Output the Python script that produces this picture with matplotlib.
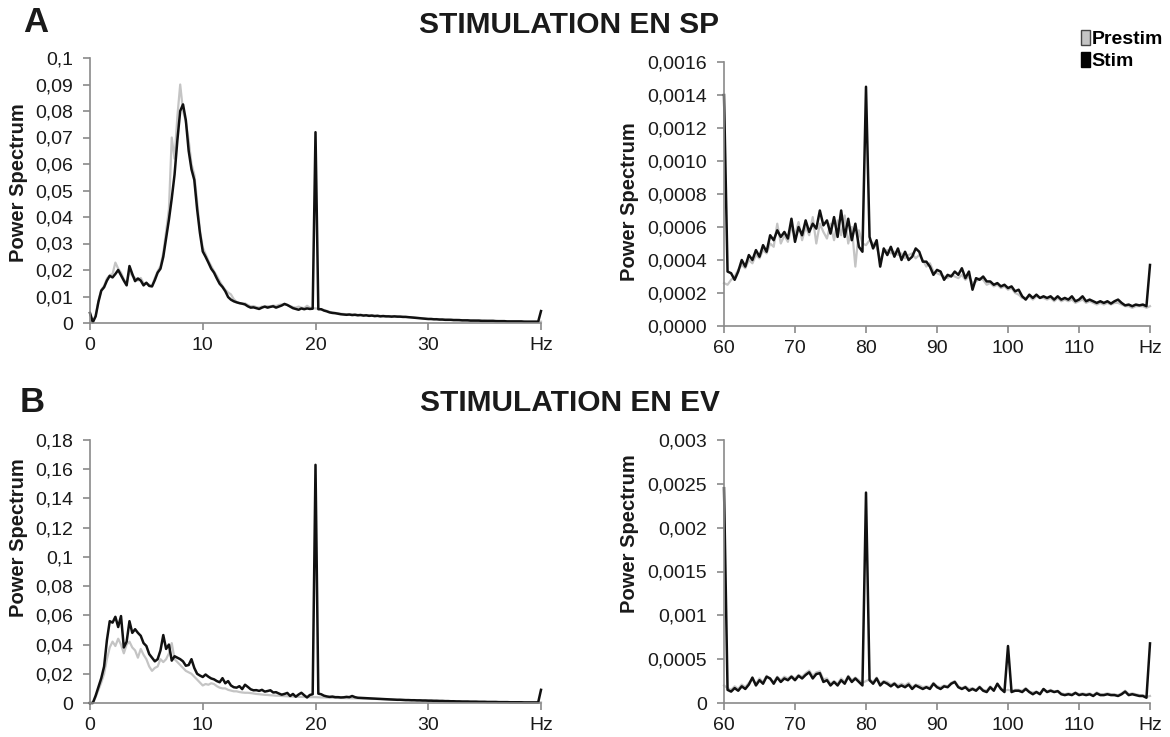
import matplotlib
matplotlib.use('Agg')
import matplotlib.pyplot as plt
import numpy as np
from matplotlib.patches import Patch

plt.rcParams['font.family'] = ['Liberation Sans', 'DejaVu Sans']

# frequency grids (Hz)
freq_low = np.arange(0, 40.01, 0.25)
freq_high = np.arange(60, 120.01, 0.5)

# A : stimulation en SP, 0-40 Hz
sp_low_prestim = [
    0.0035, 0.0004, 0.0028, 0.0085, 0.0125, 0.0140, 0.0168, 0.0180,
    0.0185, 0.0228, 0.0205, 0.0190, 0.0165, 0.0150, 0.0195, 0.0178,
    0.0170, 0.0160, 0.0170, 0.0150, 0.0148, 0.0145, 0.0140, 0.0170,
    0.0195, 0.0215, 0.0265, 0.0345, 0.0430, 0.0700, 0.0620, 0.0780,
    0.0900, 0.0800, 0.0760, 0.0690, 0.0600, 0.0560, 0.0460, 0.0350,
    0.0285, 0.0260, 0.0235, 0.0215, 0.0195, 0.0178, 0.0158, 0.0140,
    0.0125, 0.0115, 0.0108, 0.0090, 0.0080, 0.0075, 0.0072, 0.0074,
    0.0068, 0.0063, 0.0064, 0.0060, 0.0058, 0.0062, 0.0060, 0.0064,
    0.0062, 0.0066, 0.0064, 0.0068, 0.0070, 0.0070, 0.0068, 0.0064,
    0.0060, 0.0058, 0.0062, 0.0058, 0.0056, 0.0065, 0.0058, 0.0056,
    0.0055, 0.0054, 0.0052, 0.0049, 0.0046, 0.0042, 0.0040, 0.0038,
    0.0037, 0.0035, 0.0034, 0.0033, 0.0033, 0.0032, 0.0032, 0.0031,
    0.0031, 0.0030, 0.0030, 0.0029, 0.0029, 0.0028, 0.0028, 0.0027,
    0.0027, 0.0026, 0.0026, 0.0026, 0.0025, 0.0025, 0.0024, 0.0024,
    0.0023, 0.0022, 0.0022, 0.0021, 0.0020, 0.0019, 0.0018, 0.0017,
    0.0016, 0.0016, 0.0015, 0.0015, 0.0014, 0.0014, 0.0013, 0.0013,
    0.0012, 0.0012, 0.0012, 0.0011, 0.0011, 0.0011, 0.0010, 0.0010,
    0.0010, 0.0009, 0.0009, 0.0009, 0.0009, 0.0008, 0.0008, 0.0008,
    0.0008, 0.0007, 0.0007, 0.0007, 0.0007, 0.0006, 0.0006, 0.0006,
    0.0006, 0.0006, 0.0006, 0.0005, 0.0005, 0.0005, 0.0005, 0.0005,
    0.0005]
sp_low_stim = [
    0.0038, 0.0003, 0.0025, 0.0080, 0.0122, 0.0135, 0.0160, 0.0178,
    0.0172, 0.0185, 0.0200, 0.0180, 0.0160, 0.0142, 0.0215, 0.0185,
    0.0158, 0.0168, 0.0160, 0.0142, 0.0152, 0.0140, 0.0138, 0.0162,
    0.0190, 0.0205, 0.0250, 0.0320, 0.0390, 0.0470, 0.0560, 0.0690,
    0.0800, 0.0825, 0.0765, 0.0650, 0.0580, 0.0540, 0.0430, 0.0340,
    0.0270, 0.0250, 0.0228, 0.0205, 0.0190, 0.0168, 0.0148, 0.0136,
    0.0120, 0.0098, 0.0088, 0.0082, 0.0078, 0.0075, 0.0073, 0.0070,
    0.0063, 0.0058, 0.0059, 0.0056, 0.0053, 0.0058, 0.0062, 0.0058,
    0.0061, 0.0063, 0.0058, 0.0062, 0.0066, 0.0072, 0.0068, 0.0062,
    0.0056, 0.0053, 0.0050, 0.0055, 0.0052, 0.0055, 0.0053, 0.0054,
    0.0720, 0.0052, 0.0052, 0.0047, 0.0044, 0.0040, 0.0038, 0.0037,
    0.0035, 0.0033, 0.0032, 0.0031, 0.0032, 0.0030, 0.0031, 0.0029,
    0.0030, 0.0028, 0.0029, 0.0027, 0.0028, 0.0026, 0.0027, 0.0025,
    0.0026, 0.0025, 0.0025, 0.0024, 0.0025, 0.0024, 0.0024, 0.0023,
    0.0023, 0.0022, 0.0021, 0.0020, 0.0019, 0.0018, 0.0017, 0.0016,
    0.0015, 0.0015, 0.0014, 0.0014, 0.0013, 0.0013, 0.0012, 0.0012,
    0.0012, 0.0011, 0.0011, 0.0011, 0.0010, 0.0010, 0.0010, 0.0009,
    0.0009, 0.0009, 0.0009, 0.0008, 0.0008, 0.0008, 0.0008, 0.0008,
    0.0007, 0.0007, 0.0007, 0.0007, 0.0006, 0.0006, 0.0006, 0.0006,
    0.0006, 0.0006, 0.0005, 0.0005, 0.0005, 0.0005, 0.0005, 0.0005,
    0.0045]

# A : stimulation en SP, 60-120 Hz
sp_high_prestim = [
    0.00026, 0.00025, 0.00028, 0.00030, 0.00034, 0.00037, 0.00035, 0.00040, 0.00038, 0.00043,
    0.00041, 0.00046, 0.00044, 0.00050, 0.00048, 0.00062, 0.00050, 0.00055, 0.00051, 0.00060,
    0.00055, 0.00063, 0.00052, 0.00060, 0.00055, 0.00066, 0.00050, 0.00062, 0.00057, 0.00053,
    0.00062, 0.00052, 0.00064, 0.00055, 0.00067, 0.00050, 0.00060, 0.00036, 0.00058, 0.00050,
    0.00049, 0.00052, 0.00050, 0.00048, 0.00040, 0.00045, 0.00046, 0.00044, 0.00045, 0.00043,
    0.00044, 0.00041, 0.00043, 0.00044, 0.00041, 0.00043, 0.00040, 0.00036, 0.00038, 0.00033,
    0.00032, 0.00031, 0.00030, 0.00029, 0.00031, 0.00030, 0.00029, 0.00031, 0.00028, 0.00030,
    0.00026, 0.00027, 0.00029, 0.00028, 0.00025, 0.00026, 0.00024, 0.00025, 0.00023, 0.00024,
    0.00022, 0.00023, 0.00020, 0.00019, 0.00017, 0.00017, 0.00018, 0.00016, 0.00018, 0.00017,
    0.00017, 0.00016, 0.00017, 0.00015, 0.00017, 0.00015, 0.00016, 0.00015, 0.00016, 0.00014,
    0.00015, 0.00016, 0.00014, 0.00015, 0.00014, 0.00013, 0.00014, 0.00013, 0.00014, 0.00013,
    0.00014, 0.00014, 0.00013, 0.00012, 0.00012, 0.00011, 0.00012, 0.00012, 0.00012, 0.00011,
    0.00012]
sp_high_stim = [
    0.00140, 0.00033, 0.00032, 0.00028, 0.00033, 0.00040, 0.00036, 0.00043, 0.00040, 0.00046,
    0.00042, 0.00049, 0.00045, 0.00055, 0.00052, 0.00058, 0.00054, 0.00057, 0.00053, 0.00065,
    0.00051, 0.00060, 0.00055, 0.00064, 0.00057, 0.00062, 0.00059, 0.00070, 0.00061, 0.00064,
    0.00056, 0.00066, 0.00054, 0.00070, 0.00054, 0.00065, 0.00052, 0.00062, 0.00048, 0.00045,
    0.00145, 0.00054, 0.00047, 0.00052, 0.00036, 0.00047, 0.00043, 0.00048, 0.00042, 0.00047,
    0.00040, 0.00045, 0.00040, 0.00042, 0.00047, 0.00045, 0.00039, 0.00039, 0.00036, 0.00031,
    0.00034, 0.00033, 0.00028, 0.00031, 0.00030, 0.00033, 0.00031, 0.00035, 0.00029, 0.00033,
    0.00022, 0.00029, 0.00028, 0.00030, 0.00027, 0.00027, 0.00025, 0.00026, 0.00024, 0.00025,
    0.00023, 0.00024, 0.00021, 0.00022, 0.00018, 0.00016, 0.00019, 0.00017, 0.00019, 0.00017,
    0.00018, 0.00017, 0.00018, 0.00016, 0.00018, 0.00016, 0.00017, 0.00016, 0.00018, 0.00015,
    0.00016, 0.00018, 0.00015, 0.00016, 0.00015, 0.00014, 0.00015, 0.00014, 0.00015, 0.000136,
    0.00015, 0.00016, 0.00014, 0.000125, 0.00013, 0.00012, 0.00013, 0.000125, 0.00013, 0.00012,
    0.00037]

# B : stimulation en EV, 0-40 Hz
ev_low_prestim = [
    0.0000, 0.0000, 0.0040, 0.0090, 0.0140, 0.0200, 0.0300, 0.0380,
    0.0420, 0.0390, 0.0440, 0.0400, 0.0340, 0.0400, 0.0420, 0.0380,
    0.0360, 0.0310, 0.0370, 0.0330, 0.0300, 0.0250, 0.0220, 0.0240,
    0.0250, 0.0300, 0.0280, 0.0300, 0.0340, 0.0410, 0.0300, 0.0280,
    0.0260, 0.0240, 0.0220, 0.0210, 0.0200, 0.0180, 0.0160, 0.0140,
    0.0120, 0.0130, 0.0125, 0.0135, 0.0130, 0.0115, 0.0105, 0.0100,
    0.0100, 0.0090, 0.0085, 0.0080, 0.0080, 0.0075, 0.0072, 0.0070,
    0.0070, 0.0068, 0.0065, 0.0062, 0.0060, 0.0058, 0.0056, 0.0055,
    0.0053, 0.0052, 0.0050, 0.0050, 0.0048, 0.0047, 0.0046, 0.0045,
    0.0044, 0.0043, 0.0042, 0.0042, 0.0041, 0.0040, 0.0040, 0.0040,
    0.0040, 0.0039, 0.0038, 0.0038, 0.0037, 0.0036, 0.0036, 0.0035,
    0.0035, 0.0034, 0.0034, 0.0033, 0.0033, 0.0032, 0.0032, 0.0031,
    0.0031, 0.0030, 0.0030, 0.0029, 0.0028, 0.0028, 0.0027, 0.0027,
    0.0026, 0.0025, 0.0024, 0.0024, 0.0023, 0.0022, 0.0022, 0.0021,
    0.0020, 0.0020, 0.0019, 0.0019, 0.0018, 0.0018, 0.0017, 0.0017,
    0.0016, 0.0016, 0.0015, 0.0015, 0.0014, 0.0014, 0.0013, 0.0013,
    0.0012, 0.0012, 0.0011, 0.0011, 0.0010, 0.0010, 0.0010, 0.0009,
    0.0009, 0.0009, 0.0008, 0.0008, 0.0008, 0.0007, 0.0007, 0.0007,
    0.0007, 0.0006, 0.0006, 0.0006, 0.0006, 0.0005, 0.0005, 0.0005,
    0.0005, 0.0005, 0.0004, 0.0004, 0.0004, 0.0004, 0.0004, 0.0004,
    0.0004]
ev_low_stim = [
    0.0000, 0.0000, 0.0050, 0.0110, 0.0170, 0.0250, 0.0430, 0.0560,
    0.0550, 0.0590, 0.0520, 0.0595, 0.0380, 0.0420, 0.0560, 0.0480,
    0.0505, 0.0480, 0.0460, 0.0410, 0.0390, 0.0335, 0.0310, 0.0285,
    0.0300, 0.0360, 0.0465, 0.0370, 0.0400, 0.0290, 0.0320, 0.0310,
    0.0300, 0.0285, 0.0255, 0.0260, 0.0300, 0.0240, 0.0200, 0.0188,
    0.0178, 0.0195, 0.0180, 0.0168, 0.0162, 0.0150, 0.0142, 0.0170,
    0.0135, 0.0150, 0.0120, 0.0108, 0.0105, 0.0115, 0.0095, 0.0125,
    0.0110, 0.0094, 0.0087, 0.0088, 0.0083, 0.0090, 0.0078, 0.0082,
    0.0087, 0.0072, 0.0074, 0.0065, 0.0057, 0.0062, 0.0069, 0.0048,
    0.0062, 0.0043, 0.0058, 0.0070, 0.0053, 0.0038, 0.0055, 0.0060,
    0.1630, 0.0064, 0.0060, 0.0050, 0.0045, 0.0042, 0.0044, 0.0040,
    0.0040, 0.0038, 0.0039, 0.0042, 0.0040, 0.0048, 0.0040, 0.0036,
    0.0035, 0.0034, 0.0033, 0.0032, 0.0031, 0.0030, 0.0029, 0.0028,
    0.0027, 0.0026, 0.0025, 0.0024, 0.0023, 0.0022, 0.0022, 0.0021,
    0.0020, 0.0020, 0.0019, 0.0019, 0.0018, 0.0018, 0.0017, 0.0017,
    0.0016, 0.0016, 0.0015, 0.0015, 0.0014, 0.0014, 0.0013, 0.0013,
    0.0012, 0.0012, 0.0011, 0.0011, 0.0010, 0.0010, 0.0010, 0.0009,
    0.0009, 0.0009, 0.0008, 0.0008, 0.0008, 0.0007, 0.0007, 0.0007,
    0.0007, 0.0006, 0.0006, 0.0006, 0.0006, 0.0005, 0.0005, 0.0005,
    0.0005, 0.0005, 0.0004, 0.0004, 0.0004, 0.0004, 0.0004, 0.0004,
    0.0090]

# B : stimulation en EV, 60-120 Hz
ev_high_prestim = [
    0.00020, 0.00017, 0.00015, 0.00019, 0.00016, 0.00021, 0.00018, 0.00023, 0.00027, 0.00022,
    0.00028, 0.00024, 0.00031, 0.00027, 0.00024, 0.00030, 0.00026, 0.00030, 0.00028, 0.00031,
    0.00028, 0.00032, 0.00030, 0.00034, 0.00037, 0.00031, 0.00035, 0.00036, 0.00027, 0.00028,
    0.00022, 0.00025, 0.00022, 0.00028, 0.00024, 0.00031, 0.00026, 0.00029, 0.00026, 0.00023,
    0.00025, 0.00027, 0.00024, 0.00029, 0.00022, 0.00025, 0.00024, 0.00021, 0.00023, 0.00020,
    0.00022, 0.00020, 0.00023, 0.00018, 0.00021, 0.00020, 0.00018, 0.00019, 0.00018, 0.00023,
    0.00019, 0.00018, 0.00020, 0.00019, 0.00023, 0.00025, 0.00019, 0.00017, 0.00019, 0.00016,
    0.00017, 0.00015, 0.00019, 0.00015, 0.00014, 0.00019, 0.00015, 0.00021, 0.00017, 0.00014,
    0.00015, 0.00014, 0.00015, 0.00015, 0.00014, 0.00017, 0.00013, 0.00012, 0.00013, 0.00011,
    0.00016, 0.00013, 0.00015, 0.00013, 0.00014, 0.00011, 0.00010, 0.00011, 0.00010, 0.00012,
    0.00010, 0.00011, 0.00010, 0.00011, 0.00009, 0.00012, 0.00010, 0.00010, 0.00011, 0.00010,
    0.00010, 0.00009, 0.00011, 0.00014, 0.00010, 0.00011, 0.00010, 0.00009, 0.00009, 0.00007,
    0.00008]
ev_high_stim = [
    0.00245, 0.00015, 0.00013, 0.00017, 0.00014, 0.00019, 0.00016, 0.00021, 0.00029, 0.00020,
    0.00026, 0.00022, 0.00030, 0.00028, 0.00022, 0.00029, 0.00024, 0.00028, 0.00026, 0.00030,
    0.00026, 0.00031, 0.00028, 0.00032, 0.00035, 0.00028, 0.00033, 0.00034, 0.00024, 0.00026,
    0.00020, 0.00024, 0.00020, 0.00026, 0.00022, 0.00030, 0.00024, 0.00028, 0.00024, 0.00020,
    0.00240, 0.00026, 0.00022, 0.00028, 0.00020, 0.00024, 0.00022, 0.00019, 0.00022, 0.00018,
    0.00020, 0.00018, 0.00021, 0.00016, 0.00020, 0.00018, 0.00016, 0.00018, 0.00016, 0.00022,
    0.00018, 0.00016, 0.00019, 0.00018, 0.00022, 0.00024, 0.00018, 0.00016, 0.00018, 0.00014,
    0.00016, 0.00014, 0.00018, 0.00014, 0.000125, 0.00018, 0.00014, 0.00022, 0.00016, 0.000125,
    0.00065, 0.000125, 0.00014, 0.00014, 0.000125, 0.00016, 0.000125, 0.00010, 0.000125, 0.00010,
    0.00016, 0.000125, 0.00014, 0.000125, 0.000135, 0.00010, 0.00009, 0.00010, 0.00009, 0.000115,
    0.00009, 0.00010, 0.00009, 0.00010, 0.00008, 0.00011, 0.00009, 0.00009, 0.00010, 0.00009,
    0.00009, 0.00008, 0.00010, 0.00013, 0.00009, 0.00010, 0.00009, 0.00008, 0.00008, 0.00006,
    0.00068]

# axis ticks and labels
low_xticks = [0, 10, 20, 30, 40]
low_xlabels = ['0', '10', '20', '30', 'Hz']
high_xticks = [60, 70, 80, 90, 100, 110, 120]
high_xlabels = ['60', '70', '80', '90', '100', '110', 'Hz']

sp_low_yticks = [0, 0.01, 0.02, 0.03, 0.04, 0.05, 0.06, 0.07, 0.08, 0.09, 0.1]
sp_low_ylabels = ['0', '0,01', '0,02', '0,03', '0,04', '0,05', '0,06', '0,07', '0,08', '0,09', '0,1']
sp_high_yticks = [0, 0.0002, 0.0004, 0.0006, 0.0008, 0.0010, 0.0012, 0.0014, 0.0016]
sp_high_ylabels = ['0,0000', '0,0002', '0,0004', '0,0006', '0,0008', '0,0010', '0,0012', '0,0014', '0,0016']
ev_low_yticks = [0, 0.02, 0.04, 0.06, 0.08, 0.1, 0.12, 0.14, 0.16, 0.18]
ev_low_ylabels = ['0', '0,02', '0,04', '0,06', '0,08', '0,1', '0,12', '0,14', '0,16', '0,18']
ev_high_yticks = [0, 0.0005, 0.001, 0.0015, 0.002, 0.0025, 0.003]
ev_high_ylabels = ['0', '0,0005', '0,001', '0,0015', '0,002', '0,0025', '0,003']

AXIS_GREY = '#8a8a8a'
TXT = '#1a1a1a'
PRE_COL = '#c4c4c4'
STIM_COL = '#111111'


def draw_panel(ax, x, pre, stim, xt, xl, yt, yl, label_xy):
  ax.plot(x, pre, color=PRE_COL, lw=1.6, clip_on=False)
  ax.plot(x, stim, color=STIM_COL, lw=1.8, clip_on=False)
  ax.set_xlim(xt[0], xt[-1])
  ax.set_ylim(yt[0], yt[-1])
  ax.set_xticks(xt)
  ax.set_xticklabels(xl)
  ax.set_yticks(yt)
  ax.set_yticklabels(yl)
  for s in ['top', 'right']:
    ax.spines[s].set_visible(False)
  for s in ['left', 'bottom']:
    ax.spines[s].set_color(AXIS_GREY)
    ax.spines[s].set_linewidth(1.2)
  ax.tick_params(axis='both', direction='out', length=5, width=1.2,
                 color=AXIS_GREY, labelcolor=TXT, labelsize=14)
  ax.tick_params(axis='y', pad=7)
  ax.tick_params(axis='x', pad=5)
  ax.set_ylabel('Power Spectrum', fontsize=14.5, fontweight='bold', color=TXT)
  ax.yaxis.set_label_coords(*label_xy)


fig = plt.figure(figsize=(11.7, 7.37), dpi=100)
W, H = 1170.0, 737.0

def add_axes(x0, x1, ytop, ybot):
  return fig.add_axes([x0 / W, 1 - ybot / H, (x1 - x0) / W, (ybot - ytop) / H])

ax_a1 = add_axes(90, 541, 58, 323)
ax_a2 = add_axes(724, 1150, 62, 326)
ax_b1 = add_axes(90, 541, 440, 703)
ax_b2 = add_axes(724, 1150, 440, 703)

draw_panel(ax_a1, freq_low, sp_low_prestim, sp_low_stim, low_xticks, low_xlabels,
           sp_low_yticks, sp_low_ylabels, (-0.138, 0.53))
draw_panel(ax_a2, freq_high, sp_high_prestim, sp_high_stim, high_xticks, high_xlabels,
           sp_high_yticks, sp_high_ylabels, (-0.2, 0.47))
draw_panel(ax_b1, freq_low, ev_low_prestim, ev_low_stim, low_xticks, low_xlabels,
           ev_low_yticks, ev_low_ylabels, (-0.138, 0.63))
draw_panel(ax_b2, freq_high, ev_high_prestim, ev_high_stim, high_xticks, high_xlabels,
           ev_high_yticks, ev_high_ylabels, (-0.2, 0.645))

fig.text(569 / W, 1 - 25 / H, 'STIMULATION EN SP', ha='center', va='center',
         fontsize=21.5, fontweight='bold', color=TXT)
fig.text(570 / W, 1 - 403 / H, 'STIMULATION EN EV', ha='center', va='center',
         fontsize=21.5, fontweight='bold', color=TXT)
fig.text(36 / W, 1 - 22 / H, 'A', ha='center', va='center', fontsize=25,
         fontweight='bold', color=TXT)
fig.text(32 / W, 1 - 403 / H, 'B', ha='center', va='center', fontsize=25,
         fontweight='bold', color=TXT)

handles = [Patch(facecolor=PRE_COL, edgecolor='#444444', label='Prestim'),
           Patch(facecolor='black', edgecolor='black', label='Stim')]
fig.legend(handles=handles, loc='upper right', bbox_to_anchor=(1163 / W, 1 - 30 / H),
           frameon=False, prop={'weight': 'bold', 'size': 14},
           handlelength=0.45, handleheight=0.8, handletextpad=0.1,
           labelspacing=0.2, borderaxespad=0, borderpad=0)

fig.savefig('out.png', dpi=100, facecolor='white')
